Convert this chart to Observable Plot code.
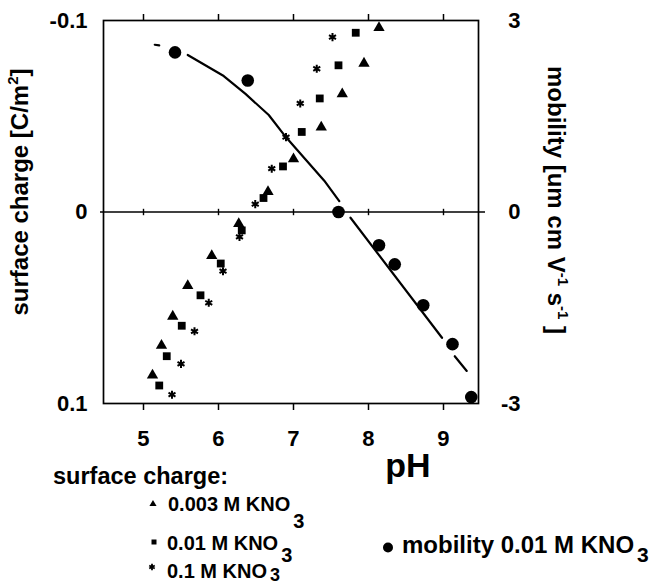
<!DOCTYPE html>
<html><head><meta charset="utf-8">
<script src="https://cdn.jsdelivr.net/npm/d3@7"></script>
<script src="https://cdn.jsdelivr.net/npm/@observablehq/plot@0.6"></script>
<style>
body{margin:0;background:#fff;}
#chart svg{display:block;}
</style></head><body><div id="chart"></div>
<script>
// ---- data ----
const phTicks = [5, 6, 7, 8, 9];
const chargeTicks = [-0.1, 0, 0.1];
const chargeTickLabels = ["-0.1", "0", "0.1"];
const mobilityTickLabels = ["3", "0", "-3"];

// surface charge, 0.003 M KNO3 (triangles)
const tri_pH    = [5.12, 5.24, 5.39, 5.59, 5.91, 6.27, 6.66, 7.00, 7.37, 7.65, 7.94, 8.14];
const tri_sigma = [0.0853, 0.0697, 0.0545, 0.0385, 0.0229, 0.0061, -0.0106, -0.0277, -0.0443, -0.0616, -0.0776, -0.0962];
// surface charge, 0.01 M KNO3 (squares)
const sq_pH    = [5.21, 5.31, 5.51, 5.76, 6.03, 6.31, 6.60, 6.86, 7.11, 7.35, 7.60, 7.83];
const sq_sigma = [0.0906, 0.0753, 0.0594, 0.0435, 0.0269, 0.0096, -0.0073, -0.0238, -0.0418, -0.0593, -0.0766, -0.0936];
// surface charge, 0.1 M KNO3 (asterisks)
const st_pH    = [5.38, 5.50, 5.68, 5.87, 6.06, 6.28, 6.49, 6.71, 6.90, 7.09, 7.31, 7.52];
const st_sigma = [0.0954, 0.0793, 0.0623, 0.0474, 0.0309, 0.0130, -0.0041, -0.0226, -0.0391, -0.0567, -0.0748, -0.0913];
// mobility, 0.01 M KNO3 (circles)
const mob_pH = [5.42, 6.39, 7.60, 8.14, 8.35, 8.73, 9.12, 9.37];
const mob_m  = [2.50, 2.06, 0.00, -0.52, -0.82, -1.46, -2.07, -2.90];
// fitted mobility curve (broken into pieces as drawn)
const fit_pH  = [5.15, 5.21, 5.59, 6.07, 6.36, 6.67, 6.88, 7.41, 7.61, 7.76, 8.98, 9.15, 9.31];
const fit_m   = [2.62, 2.61, 2.46, 2.13, 1.85, 1.52, 1.20, 0.49, 0.17, -0.09, -1.97, -2.26, -2.49];
const fit_seg = [1, 1, 2, 2, 2, 2, 2, 2, 2, 3, 3, 4, 4];

// ---- build tables ----
const toRows = (xs, ys) => xs.map((p, i) => ({pH: p, sigma: ys[i]}));
const triRows = toRows(tri_pH, tri_sigma);
const sqRows = toRows(sq_pH, sq_sigma);
const stRows = toRows(st_pH, st_sigma);
const mobRows = mob_pH.map((p, i) => ({pH: p, m: mob_m[i]}));
const fitRows = fit_pH.map((p, i) => ({pH: p, m: fit_m[i], seg: fit_seg[i]}));
// mobility axis (right) shares the vertical scale: 3 ↔ -0.1, -3 ↔ 0.1
const mobToY = d => -d.m / 30;

const vTick = {draw(ctx, size) { const r = Math.sqrt(size / Math.PI); ctx.moveTo(0, -r); ctx.lineTo(0, r); }};

const FONT = "'Liberation Sans', Arial, Helvetica, sans-serif";

const chart = Plot.plot({
  width: 650, height: 586,
  marginLeft: 103, marginRight: 172, marginTop: 20, marginBottom: 183,
  style: {fontFamily: FONT, fontWeight: "bold", background: "white", color: "black", overflow: "visible"},
  x: {domain: [4.4667, 9.4667]},
  y: {domain: [-0.1, 0.1], reverse: true},
  marks: [
    Plot.frame({stroke: "black", strokeWidth: 1.7}),
    Plot.ruleY([0], {stroke: "black", strokeWidth: 1.6, insetLeft: -3, insetRight: -7}),
    Plot.dot(phTicks, {x: d => d, y: () => 0, symbol: vTick, r: 3.2, stroke: "black", fill: "none", strokeWidth: 1.4}),
    Plot.axisX({anchor: "bottom", ticks: phTicks, tickSize: 7, tickPadding: 20, strokeWidth: 1.5,
      tickFormat: d => String(d), fontSize: 22, fontWeight: "bold", label: null}),
    Plot.axisX({anchor: "top", ticks: phTicks, tickSize: 7, strokeWidth: 1.5, tickFormat: () => "", label: null}),
    Plot.axisY({anchor: "left", ticks: chargeTicks, tickSize: 0, tickPadding: 16,
      tickFormat: d => chargeTickLabels[chargeTicks.indexOf(d)], fontSize: 22, fontWeight: "bold", label: null}),
    Plot.axisY({anchor: "right", ticks: chargeTicks, tickSize: 0, tickPadding: 42, textAnchor: "end",
      tickFormat: d => mobilityTickLabels[chargeTicks.indexOf(d)], fontSize: 22, fontWeight: "bold", label: null}),
    Plot.line(fitRows, {x: "pH", y: mobToY, z: "seg", stroke: "black", strokeWidth: 2.2}),
    Plot.dot(triRows, {x: "pH", y: "sigma", symbol: "triangle", r: 4.2, fill: "black", stroke: "none"}),
    Plot.dot(sqRows, {x: "pH", y: "sigma", symbol: "square", r: 4.4, fill: "black", stroke: "none"}),
    Plot.dot(stRows, {x: "pH", y: "sigma", symbol: "asterisk", r: 3.8, stroke: "black", strokeWidth: 2}),
    Plot.dot(mobRows, {x: "pH", y: mobToY, r: 6.3, fill: "black", stroke: "none"})
  ]
});
document.getElementById("chart").appendChild(chart);

// ---- titles and legend as real text ----
const svg = d3.select(chart);
const g = svg.append("g").attr("font-family", FONT).attr("font-weight", "bold").attr("fill", "black")
  .attr("text-anchor", "start");

function addText(x, y, size, parts, opts = {}) {
  const t = g.append("text").attr("font-size", size).attr("text-anchor", opts.anchor || "start");
  if (opts.rotate != null) t.attr("transform", `translate(${x},${y}) rotate(${opts.rotate})`);
  else t.attr("x", x).attr("y", y);
  parts.forEach(p => {
    const s = t.append("tspan").text(p.t);
    if (p.size) s.attr("font-size", p.size);
    if (p.dy) s.attr("dy", p.dy);
    if (p.dx) s.attr("dx", p.dx);
  });
  return t;
}

// left axis title
addText(28, 192, 24, [{t: "surface charge [C/m"}, {t: "2", size: 15, dy: -10}, {t: "]", dy: 10}], {rotate: -90, anchor: "middle"});
// right axis title
addText(548, 200, 24, [{t: "mobility [um cm V"}, {t: "-1", size: 15, dy: -10}, {t: " s", dy: 10},
  {t: "-1", size: 15, dy: -10}, {t: " ]", dy: 10}], {rotate: 90, anchor: "middle"});
// x axis title
addText(408, 477, 34, [{t: "pH"}], {anchor: "middle"});

// legend
addText(53, 484, 23.5, [{t: "surface charge:"}]);
g.append("path").attr("transform", "translate(153,504)").attr("d", d3.symbol(d3.symbolTriangle, 22)());
addText(168, 511, 20, [{t: "0.003 M KNO"}, {t: "3", dx: 3, dy: 17}]);
g.append("path").attr("transform", "translate(154,542)").attr("d", d3.symbol(d3.symbolSquare, 25)());
addText(167, 550, 20, [{t: "0.01 M KNO"}, {t: "3", dx: 3, dy: 12}]);
g.append("path").attr("transform", "translate(152,567)").attr("d", d3.symbol(d3.symbolAsterisk, 28)())
  .attr("stroke", "black").attr("stroke-width", 1.8).attr("fill", "none");
addText(167, 578, 20, [{t: "0.1 M KNO"}, {t: "3", size: 18, dx: 3, dy: 3}]);
g.append("circle").attr("cx", 388).attr("cy", 547.5).attr("r", 5);
addText(402, 553, 24, [{t: "mobility 0.01 M KNO"}, {t: "3", size: 21, dx: 3, dy: 9}]);
</script>
</body></html>
